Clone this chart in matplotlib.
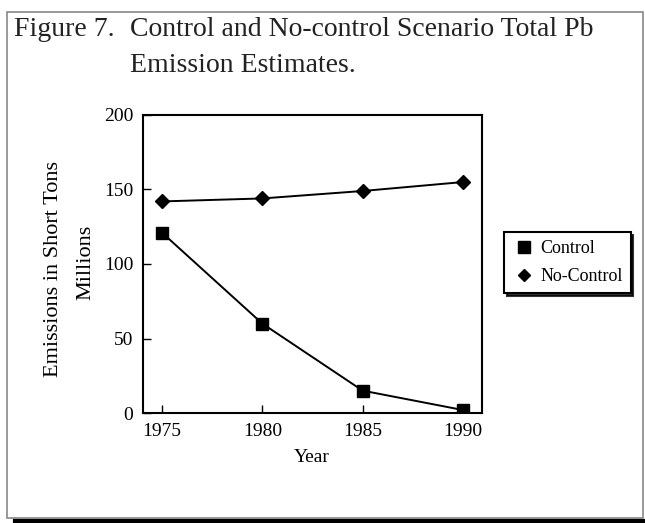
import matplotlib
matplotlib.use("Agg")
import matplotlib.pyplot as plt
from matplotlib.patches import Rectangle
from matplotlib.lines import Line2D

# data
years = [1975, 1980, 1985, 1990]
control = [121, 60, 15, 2]
no_control = [142, 144, 149, 155]
yticks = [0, 50, 100, 150, 200]

plt.rcParams['font.family'] = ['Liberation Serif', 'DejaVu Serif']

W, H = 645, 523
fig = plt.figure(figsize=(W / 100, H / 100), dpi=100)
fig.patch.set_facecolor('white')

# outer frame + dark bottom edge
fig.add_artist(Rectangle((7 / W, 1 - 518 / H), 636 / W, 506 / H, transform=fig.transFigure,
                         fill=False, edgecolor='#888888', lw=1.2))
fig.add_artist(Line2D([15 / W, 1], [1 - 521 / H, 1 - 521 / H], transform=fig.transFigure,
                      color='black', lw=3))

# title
fig.text(14 / W, 1 - 30 / H, 'Figure 7.', fontsize=20, va='center', ha='left', color='#222222')
fig.text(130 / W, 1 - 30 / H, 'Control and No-control Scenario Total Pb', fontsize=20,
         va='center', ha='left', color='#222222')
fig.text(130 / W, 1 - 65 / H, 'Emission Estimates.', fontsize=20, va='center', ha='left',
         color='#222222')

ax = fig.add_axes([143 / W, 1 - 413 / H, 339 / W, 298 / H])
ax.plot(years, control, color='black', lw=1.4, marker='s', ms=9, label='Control')
ax.plot(years, no_control, color='black', lw=1.4, marker='D', ms=7, label='No-Control')

ax.set_xlim(1974.05, 1990.95)
ax.set_ylim(0, 200)
ax.set_xticks(years)
ax.set_yticks(yticks)
ax.tick_params(direction='in', length=6, width=1, labelsize=14, pad=7)
for s in ax.spines.values():
    s.set_linewidth(1.5)

# axis titles
fig.text(312 / W, 1 - 458 / H, 'Year', fontsize=14, ha='center', va='center')
fig.text(54 / W, 1 - 269 / H, 'Emissions in Short Tons', fontsize=16, rotation=90,
         ha='center', va='center')
fig.text(86 / W, 1 - 262 / H, 'Millions', fontsize=16, rotation=90,
         ha='center', va='center')

leg = ax.legend(loc='upper left', bbox_to_anchor=(504 / W, 1 - 232 / H),
                bbox_transform=fig.transFigure, borderaxespad=0, frameon=True,
                fancybox=False, shadow={'color': 'black', 'alpha': 0.8},
                edgecolor='black', fontsize=13, handlelength=1.3, handletextpad=0.25,
                borderpad=0.45, labelspacing=0.6, markerscale=0.9)
leg.get_frame().set_linewidth(1.5)
for h in leg.legend_handles:
    h.set_linestyle('none')

fig.savefig('out.png', dpi=100)
